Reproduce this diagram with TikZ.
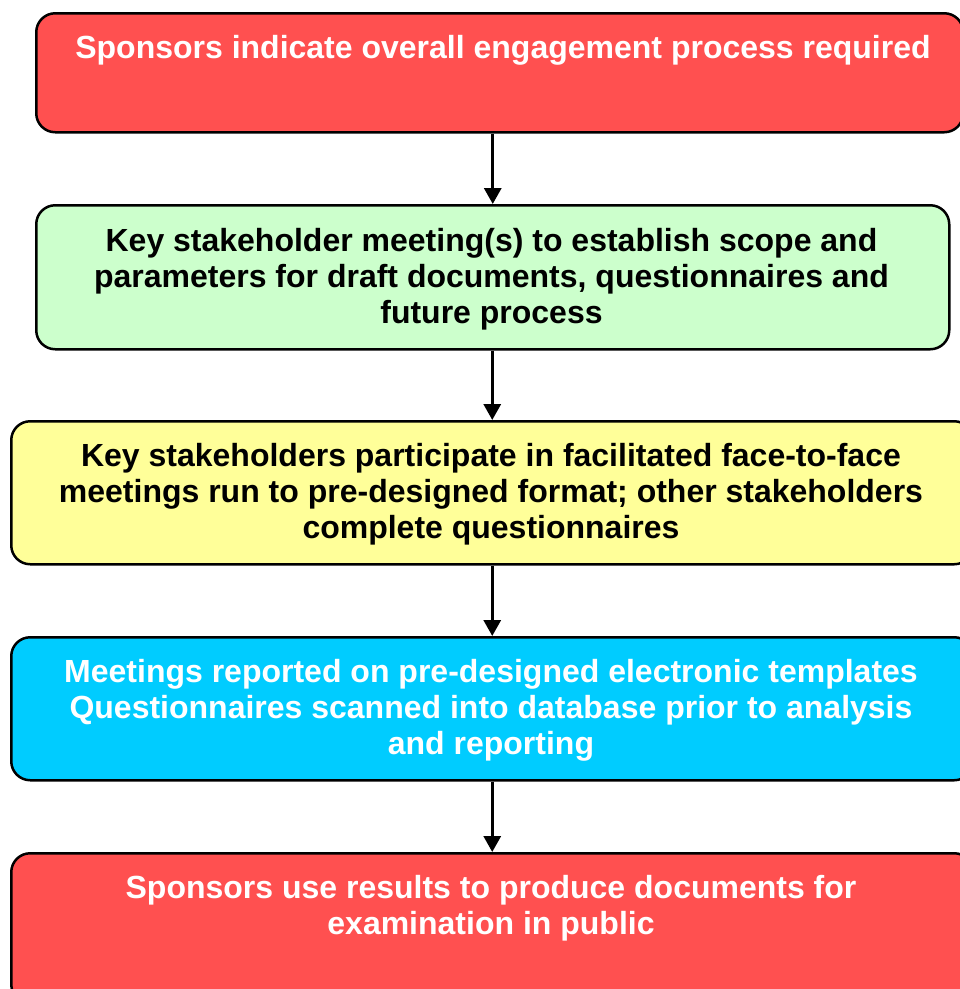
\documentclass[tikz,border=0pt]{standalone}
\usepackage{fontspec}
\setmainfont{Liberation Sans}
\usetikzlibrary{arrows.meta}
\definecolor{cred}{HTML}{FF5050}
\definecolor{cgreen}{HTML}{CCFFCC}
\definecolor{cyellow}{HTML}{FFFF99}
\definecolor{cblue}{HTML}{00CCFF}
\begin{document}
\begin{tikzpicture}[x=1pt,y=-1pt,
  box/.style={draw=black,line width=2.5pt,rounded corners=19pt,inner sep=0pt,anchor=north west},
  txt/.style={anchor=north,align=center,font=\fontsize{32}{36.3}\selectfont\bfseries,inner sep=0pt},
  arr/.style={line width=3.2pt,-{Triangle[length=16pt,width=17pt]}}]
\useasboundingbox (0,0) rectangle (960,989);
\begin{scope}
\clip (0,0) rectangle (960,989);
\node[box,fill=cred,minimum width=927pt,minimum height=119pt] (b1) at (35,12) {};
\node[box,fill=cgreen,minimum width=913pt,minimum height=144pt] (b2) at (35,204) {};
\node[box,fill=cyellow,minimum width=962pt,minimum height=143pt] (b3) at (10,420) {};
\node[box,fill=cblue,minimum width=962pt,minimum height=143pt] (b4) at (10,636) {};
\node[box,fill=cred,minimum width=962pt,minimum height=150pt] (b5) at (10,852) {};
\end{scope}
\node[txt,text=white] (t1) at (503,35) {Sponsors indicate overall engagement process required};
\node[txt] (t2) at (491.5,228) {Key stakeholder meeting(s) to establish scope and\\parameters for draft documents, questionnaires and\\future process};
\node[txt] (t3) at (491,443) {Key stakeholders participate in facilitated face-to-face\\meetings run to pre-designed format; other stakeholders\\complete questionnaires};
\node[txt,text=white] (t4) at (491,659) {Meetings reported on pre-designed electronic templates\\Questionnaires scanned into database prior to analysis\\and reporting};
\node[txt,text=white] (t5) at (491,875) {Sponsors use results to produce documents for\\examination in public};
\draw[arr] (b2.north |- b1.south) -- (b2.north);
\draw[arr] (b2.south -| b3.north) -- (b3.north);
\draw[arr] (b3.south) -- (b4.north);
\draw[arr] (b4.south) -- (b5.north);
\end{tikzpicture}
\end{document}
